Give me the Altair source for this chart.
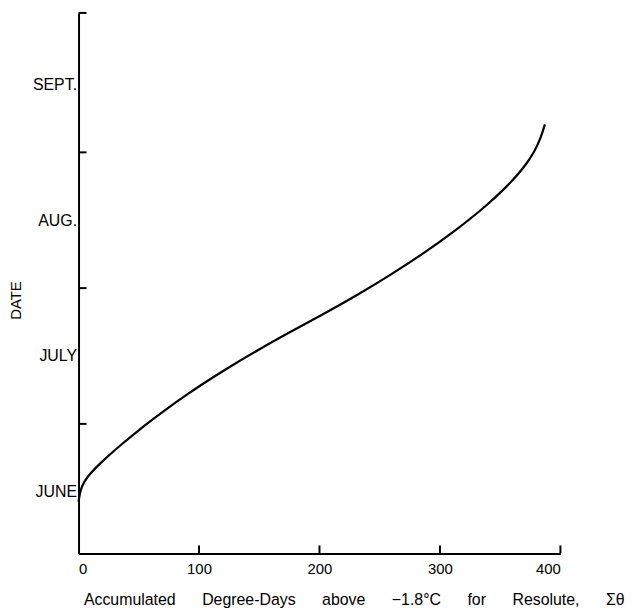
import altair as alt
import pandas as pd

# Curve
degree_days = [0, 1.5, 4.4, 9.9, 20.9, 34.6, 48.4, 62.1, 75.9, 89.6, 103.3, 121.2,
               150.1, 177.6, 205.1, 232.6, 260.0, 287.6, 309.5, 337.1, 356.3,
               370.1, 378.3, 383.8, 387.1]
month_pos = [5.927, 6.012, 6.072, 6.138, 6.235, 6.342, 6.443, 6.537, 6.628, 6.714,
             6.796, 6.898, 7.051, 7.186, 7.318, 7.455, 7.603, 7.763, 7.901, 8.094,
             8.253, 8.391, 8.502, 8.607, 8.706]

month_names = ["JUNE", "JULY", "AUG.", "SEPT."]
month_values = [6, 7, 8, 9]
mid_month_ticks = [6.5, 7.5, 8.5, 9.527]
x_tick_values = [0, 100, 200, 300, 400]
x_inner_ticks = [100, 200, 300, 400]

Y_DOMAIN = [5.546, 9.527]
X_DOMAIN = [0, 400]
W, H = 485, 544
FONT = "Liberation Sans"

label_expr = " : ".join(
    f"datum.value == {v} ? '{n}'" for v, n in zip(month_values, month_names)
) + " : ''"

xscale = alt.Scale(domain=X_DOMAIN, nice=False, zero=False)
yscale = alt.Scale(domain=Y_DOMAIN, nice=False, zero=False)

nb = "\u00a0" * 6
x_title = nb.join(["Accumulated", "Degree-Days", "above", "\u22121.8\u00b0C", "for", "Resolute,", "\u03a3\u03b8"])

X_ENC = alt.X("deg:Q", scale=xscale, axis=alt.Axis(
    values=x_tick_values, ticks=False, grid=False, domainColor="black",
    domainWidth=2, labelFont=FONT, labelFontSize=15, labelColor="black",
    labelPadding=8, title=x_title, titleFont=FONT, titleFontSize=16,
    titleFontWeight="normal", titleColor="black", titlePadding=15,
    titleX=277, titleAlign="center",
))
Y_ENC = alt.Y("month:Q", scale=yscale, axis=alt.Axis(
    values=month_values, labelExpr=label_expr, ticks=False, grid=False,
    domainColor="black", domainWidth=2, labelFont=FONT, labelFontSize=16,
    labelColor="black", labelPadding=2, title="DATE", titleFont=FONT,
    titleFontSize=15, titleFontWeight="normal", titleColor="black",
    titlePadding=9, titleY=289,
))

curve_df = pd.DataFrame({"deg": degree_days, "month": month_pos})

curve = alt.Chart(curve_df).mark_line(
    color="black", strokeWidth=2.2, interpolate="basis"
).encode(x=X_ENC, y=Y_ENC)

ytick_df = pd.DataFrame({"month": mid_month_ticks})
yticks = alt.Chart(ytick_df).mark_rule(color="black", strokeWidth=2).encode(
    y=Y_ENC, x=alt.value(0), x2=alt.value(8),
)

xtick_df = pd.DataFrame({"deg": x_inner_ticks})
xticks = alt.Chart(xtick_df).mark_rule(color="black", strokeWidth=2).encode(
    x=X_ENC, y=alt.value(H), y2=alt.value(H - 8),
)

chart = alt.layer(curve, yticks, xticks).properties(
    width=W, height=H,
    padding={"left": 0, "top": 2, "right": 0, "bottom": 0},
    background="white",
).configure_view(strokeWidth=0, stroke="transparent")

chart.save("out.html", embed_options={"renderer": "svg", "actions": False})
